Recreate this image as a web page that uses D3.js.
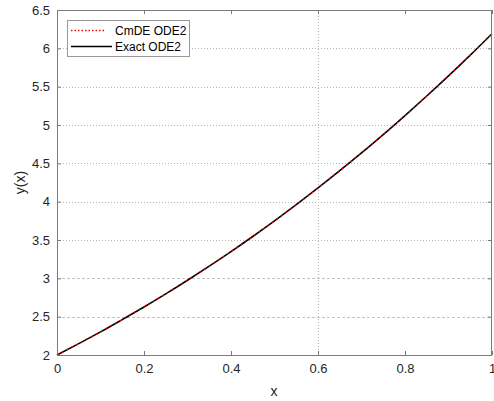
<!DOCTYPE html>
<html>
<head>
<meta charset="utf-8">
<script src="https://cdn.jsdelivr.net/npm/d3@7"></script>
<style>
  body { margin: 0; background: #fff; }
  svg { display: block; font-family: "Liberation Sans", Arial, sans-serif; }
</style>
</head>
<body>
<svg id="canvas"></svg>
<script>
// values
const xValues = [0, 0.05, 0.1, 0.15, 0.2, 0.25, 0.3, 0.35, 0.4, 0.45, 0.5,
                 0.55, 0.6, 0.65, 0.7, 0.75, 0.8, 0.85, 0.9, 0.95, 1]
const exactValues = [2.000, 2.148, 2.301, 2.462, 2.626, 2.797, 2.975, 3.159, 3.349, 3.546, 3.750,
                     3.961, 4.179, 4.404, 4.636, 4.875, 5.123, 5.378, 5.640, 5.911, 6.190]
const cmdeValues = [2.000, 2.149, 2.301, 2.461, 2.627, 2.797, 2.974, 3.159, 3.350, 3.546, 3.751,
                    3.961, 4.178, 4.404, 4.637, 4.875, 5.123, 5.379, 5.640, 5.910, 6.191]
const xTicks = [0, 0.2, 0.4, 0.6, 0.8, 1]
const yTicks = [2, 2.5, 3, 3.5, 4, 4.5, 5, 5.5, 6, 6.5]
const xGrid = [0.6]
const legendLabels = ["CmDE ODE2", "Exact ODE2"]

const width = 494
const height = 401
const plotLeft = 57
const plotRight = 492
const plotTop = 10
const plotBottom = 355

const canvas = d3.select("#canvas").attr("width", width).attr("height", height)

const xScale = d3.scaleLinear().domain([0, 1]).range([plotLeft, plotRight])
const yScale = d3.scaleLinear().domain([2, 6.5]).range([plotBottom, plotTop])

// grid
canvas.append("g")
  .selectAll("line")
  .data(yTicks.slice(1, -1))
  .enter()
  .append("line")
  .attr("x1", plotLeft).attr("x2", plotRight)
  .attr("y1", d => Math.round(yScale(d)) + 0.5)
  .attr("y2", d => Math.round(yScale(d)) + 0.5)
  .attr("stroke", d => d <= 3 ? "#c4c4c4" : "#b4b4b4")
  .attr("stroke-dasharray", d => d <= 3 ? "3,2" : "1,2")

canvas.append("g")
  .selectAll("line")
  .data(xGrid)
  .enter()
  .append("line")
  .attr("y1", plotTop).attr("y2", plotBottom)
  .attr("x1", d => Math.round(xScale(d)) + 0.5)
  .attr("x2", d => Math.round(xScale(d)) + 0.5)
  .attr("stroke", "#b4b4b4")
  .attr("stroke-dasharray", "1,2")

// curves
const line = d3.line()
  .x((d, i) => xScale(xValues[i]))
  .y(d => yScale(d))
  .curve(d3.curveMonotoneX)

canvas.append("path")
  .datum(exactValues)
  .attr("d", line)
  .attr("fill", "none")
  .attr("stroke", "#000")
  .attr("stroke-width", 1.6)

canvas.append("path")
  .datum(cmdeValues)
  .attr("d", line)
  .attr("fill", "none")
  .attr("stroke", "#ff0000")
  .attr("stroke-width", 1.4)
  .attr("stroke-dasharray", "1.5,4")

// axes
const axisColor = "#7a7a7a"
const styleAxis = (g) => {
  g.select(".domain").remove()
  g.selectAll(".tick line").attr("stroke", axisColor)
  g.selectAll(".tick text").attr("fill", "#262626").style("font-size", "13px")
    .style("font-family", "'Liberation Sans', Arial, sans-serif")
}

canvas.append("g")
  .attr("transform", "translate(0," + plotBottom + ")")
  .call(d3.axisBottom(xScale).tickValues(xTicks).tickSize(-4).tickPadding(9)
    .tickFormat(d3.format("")))
  .call(styleAxis)

canvas.append("g")
  .attr("transform", "translate(0," + plotTop + ")")
  .call(d3.axisTop(xScale).tickValues(xTicks).tickSize(-4).tickFormat(""))
  .call(styleAxis)

canvas.append("g")
  .attr("transform", "translate(" + plotLeft + ",0)")
  .call(d3.axisLeft(yScale).tickValues(yTicks).tickSize(-4).tickPadding(7)
    .tickFormat(d3.format("")))
  .call(styleAxis)

canvas.append("g")
  .attr("transform", "translate(" + plotRight + ",0)")
  .call(d3.axisRight(yScale).tickValues(yTicks).tickSize(-4).tickFormat(""))
  .call(styleAxis)

canvas.append("rect")
  .attr("x", plotLeft + 0.5).attr("y", plotTop + 0.5)
  .attr("width", plotRight - plotLeft - 1).attr("height", plotBottom - plotTop)
  .attr("fill", "none")
  .attr("stroke", axisColor)

// axis labels
canvas.append("text")
  .attr("x", 274).attr("y", 396)
  .attr("text-anchor", "middle")
  .attr("fill", "#262626")
  .style("font-size", "14px")
  .text("x")

canvas.append("text")
  .attr("transform", "translate(25," + (plotTop + plotBottom) / 2 + ") rotate(-90)")
  .attr("text-anchor", "middle")
  .attr("fill", "#262626")
  .style("font-size", "14px")
  .text("y(x)")

// legend
const legend = canvas.append("g")
legend.append("rect")
  .attr("x", 67.5).attr("y", 20.5)
  .attr("width", 122).attr("height", 36)
  .attr("fill", "#fff")
  .attr("stroke", "#9a9a9a")

legend.selectAll("line")
  .data(legendLabels)
  .enter()
  .append("line")
  .attr("x1", 71).attr("x2", (d, i) => i === 0 ? 106 : 112)
  .attr("y1", (d, i) => 30.5 + i * 16)
  .attr("y2", (d, i) => 30.5 + i * 16)
  .attr("stroke", (d, i) => i === 0 ? "#ff0000" : "#000")
  .attr("stroke-width", (d, i) => i === 0 ? 1.6 : 1.3)
  .attr("stroke-dasharray", (d, i) => i === 0 ? "1.5,2" : null)

legend.selectAll("text")
  .data(legendLabels)
  .enter()
  .append("text")
  .attr("x", 115)
  .attr("y", (d, i) => 35 + i * 16)
  .attr("fill", "#000")
  .style("font-size", "12px")
  .text(d => d)
</script>
</body>
</html>
